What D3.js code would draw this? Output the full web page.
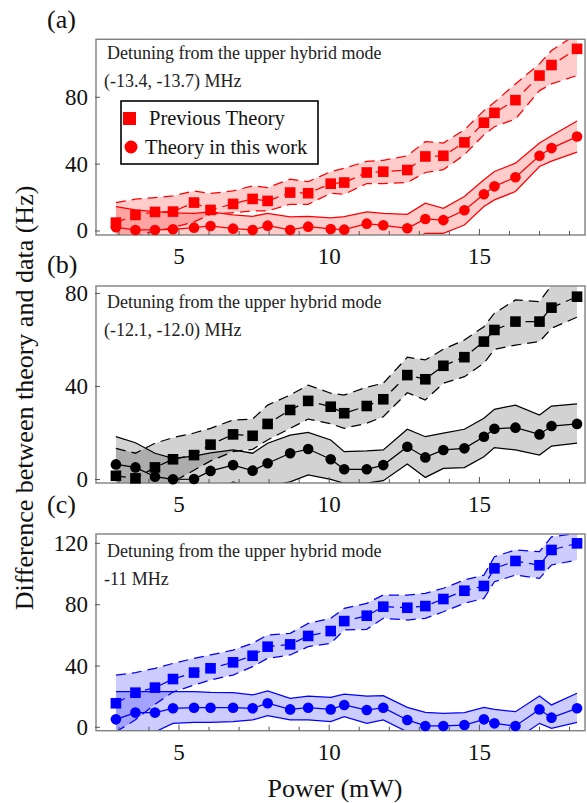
<!DOCTYPE html>
<html>
<head>
<meta charset="utf-8">
<script src="https://cdn.jsdelivr.net/npm/d3@7"></script>
<style>
  body { margin: 0; background: #fff; }
  svg { display: block; }
</style>
</head>
<body>
<div id="chart"></div>
<script>
// power axis (mW), same sampling in all three panels
const power = [2.9, 3.55, 4.2, 4.8, 5.5, 6.05, 6.8, 7.45, 7.95, 8.7, 9.3, 10.05, 10.5, 11.25, 11.8, 12.6, 13.2, 13.8, 14.5, 15.15, 15.5, 16.2, 17.0, 17.4, 18.25];

// (a) detuning (-13.4, -13.7) MHz
const prevA   = [5, 9.6, 11.4, 11.6, 17, 12.6, 16.2, 19.2, 18, 23, 22.6, 28.3, 29, 35, 35.5, 36.5, 44.6, 45, 53, 64.8, 70.7, 78.3, 93, 99.3, 109];
const prevAHi = [17, 19, 20, 21, 24, 22.5, 24, 27, 26, 31, 29.5, 35.5, 37.5, 41.7, 42.3, 45, 53.5, 52.6, 60.5, 72, 77, 88, 100, 108, 118];
const prevALo = [-6, -3, 0, 2, 5.5, 10, 11, 12, 12, 16, 16, 22.5, 22, 28.4, 28.4, 29, 35, 36.7, 45.6, 57.5, 62.4, 67, 84, 88, 93];
const thisA   = [2.2, 0.6, 0.6, 1, 2, 3, 1.4, 0.6, 3.2, 0.6, 2.6, 1.2, 0.8, 4.4, 3.4, 1.6, 7.2, 6.5, 12.4, 22, 26.7, 32.2, 45, 49.6, 56.5];
const thisAHi = [14.6, 12.6, 11.6, 10.8, 10.6, 11.5, 9.6, 8.8, 10.6, 8.4, 8.8, 7.8, 8.6, 11.4, 10.6, 10, 16.6, 13.6, 20.6, 30.6, 35.6, 40.6, 52.6, 57, 65.8];
const thisALo = [-8, -9, -9, -9, -8, -7, -8, -9, -6, -9, -7, -8, -9, -5, -6, -8, -1.4, -1.4, 3.6, 14.6, 18.6, 23.6, 38.6, 41.8, 47.2];

// (b) detuning (-12.1, -12.0) MHz
const prevB   = [1.6, 0.5, 5.2, 8.7, 10.5, 15, 19.4, 18.8, 23.9, 29.9, 33.8, 31.3, 28.5, 31.6, 34.5, 44.9, 43.1, 48.9, 52.6, 59.3, 64.3, 67.9, 67.9, 73.9, 78.6];
const prevBHi = [13.4, 11.3, 15.6, 18, 20, 22, 25.6, 26, 32, 36.3, 40.6, 37.1, 36.3, 39.7, 41.4, 52.6, 51.4, 56, 60, 65.7, 71.5, 77.2, 76.5, 83.5, 88];
const prevBLo = [-10, -8, -5, -1, 4, 8, 12, 13, 17, 22, 26, 24, 22, 24.2, 27, 37.3, 34.2, 41.4, 44.2, 50, 56, 57.8, 59.3, 65, 69.8];
const thisB   = [6.5, 5.2, 1.2, 0.1, 0.2, 3.7, 6.2, 3.8, 7, 11.3, 13.1, 8.7, 4.4, 4.4, 6.2, 14.1, 9.5, 12.7, 13.4, 18.4, 21.8, 22.3, 19.4, 23, 23.9];
const thisBHi = [18.4, 15.8, 11.3, 9.1, 10.1, 11.5, 12.7, 11.3, 15.6, 19.1, 20.3, 17, 12, 12.3, 12.7, 21.6, 18.4, 19.9, 21.6, 26.3, 30.2, 32, 27.7, 31.6, 32.5];
const thisBLo = [-5, -6, -9, -11, -11, -7, -1, -4, -3, -1, 2, 0.1, -1.6, -1.6, -0.5, 6.7, 0.9, 4.8, 5.1, 9.8, 13.7, 12.7, 10.5, 14.4, 15.6];

// (c) detuning -11 MHz
const prevC   = [15.7, 22.6, 25.9, 31.5, 35.7, 38.5, 42.4, 46.7, 52.6, 54.1, 59.6, 62.8, 69.3, 72.8, 78.7, 78, 79.1, 83.7, 89.1, 92.2, 103.7, 108.5, 105.7, 115.7, 120];
const prevCHi = [34.1, 35.7, 38.5, 41.7, 45, 47.2, 50.4, 54.8, 60.2, 61.3, 67.8, 71.1, 77.6, 80.9, 86.3, 86.3, 87.4, 90.7, 96.1, 99.3, 111.3, 115.7, 114.6, 124.3, 126.5];
const prevCLo = [-3, 5, 15, 23, 27.6, 30.9, 34.1, 39.6, 45, 47.2, 52.6, 54.8, 63.5, 63.9, 71.1, 70, 71.1, 75.4, 80.9, 84.1, 95, 99.3, 97.2, 105.9, 109.1];
const thisC   = [5.2, 9.6, 9.6, 12.4, 12.8, 12.8, 12.8, 12.4, 15.7, 11.7, 12.8, 11.7, 14.6, 11.3, 12.8, 4.8, 0.9, 0.9, 1.5, 5.2, 2.6, 0.9, 11.7, 6.3, 12.4];
const thisCHi = [23.3, 23.3, 23.3, 23.3, 23.3, 22.8, 22.6, 21.1, 23.7, 18.9, 20.4, 19.6, 21.7, 20.4, 20.7, 13, 9.8, 9.1, 9.6, 13, 11.7, 10.2, 20.4, 14.6, 22.2];
const thisCLo = [-12, -7, -3, 2.6, 3.3, 3.3, 3.7, 4.8, 7.6, 4.8, 4.8, 3.7, 7, 2.6, 4.8, -3, -7, -8, -8, -3, -5, -8, 2.6, -0.7, 3.3];

const xTicks = [5, 10, 15];
const xMinorTicks = d3.range(3, 19);
const panelTags = ['(a)', '(b)', '(c)'];
const detuningText = ['(-13.4, -13.7) MHz', '(-12.1, -12.0) MHz', '-11 MHz'];
const legendLabels = ['Previous Theory', 'Theory in this work'];

const W = 587, H = 803;
const FONT = '"Liberation Serif", "Times New Roman", serif';
const left = 96, right = 585;

const svg = d3.select('#chart').append('svg')
    .attr('width', W)
    .attr('height', H)
    .style('font-family', FONT)
    .style('fill', '#111');

const x = d3.scaleLinear().domain([2.237, 18.515]).range([left, right]);

// 面板配置
const panels = [
    { top: 39.3, bottom: 235, yDomain: [-2.4, 114.7], yTicks: [0, 40, 80], color: '#ff0000', opacity: 0.2,
      prev: prevA, prevHi: prevAHi, prevLo: prevALo, cur: thisA, curHi: thisAHi, curLo: thisALo, tagY: 28, textY: 59 },
    { top: 286, bottom: 483, yDomain: [-1.5, 83.2], yTicks: [0, 40, 80], color: '#000000', opacity: 0.175,
      prev: prevB, prevHi: prevBHi, prevLo: prevBLo, cur: thisB, curHi: thisBHi, curLo: thisBLo, tagY: 273, textY: 308 },
    { top: 534, bottom: 730.7, yDomain: [-2.2, 126.1], yTicks: [0, 40, 80, 120], color: '#0000ff', opacity: 0.2,
      prev: prevC, prevHi: prevCHi, prevLo: prevCLo, cur: thisC, curHi: thisCHi, curLo: thisCLo, tagY: 513, textY: 557 },
];

const idx = d3.range(power.length);

panels.forEach((p, k) => {
    const y = d3.scaleLinear().domain(p.yDomain).range([p.bottom, p.top]);
    const g = svg.append('g');

    svg.append('defs').append('clipPath').attr('id', `clip-${k}`)
        .append('rect')
        .attr('x', left).attr('y', p.top)
        .attr('width', right - left).attr('height', p.bottom - p.top);

    const plot = g.append('g').attr('clip-path', `url(#clip-${k})`);

    const area = (lo, hi) => d3.area()
        .x(i => x(power[i]))
        .y0(i => y(lo[i]))
        .y1(i => y(hi[i]));
    const line = (arr) => d3.line()
        .x(i => x(power[i]))
        .y(i => y(arr[i]));

    // 误差带
    plot.append('path').attr('d', area(p.prevLo, p.prevHi)(idx))
        .attr('fill', p.color).attr('fill-opacity', p.opacity);
    plot.append('path').attr('d', area(p.curLo, p.curHi)(idx))
        .attr('fill', p.color).attr('fill-opacity', p.opacity);

    // 带边界 + 连线
    [p.prevHi, p.prevLo, p.prev].forEach(arr => {
        plot.append('path').attr('d', line(arr)(idx))
            .attr('fill', 'none').attr('stroke', p.color)
            .attr('stroke-width', 1.25).attr('stroke-dasharray', '10,6');
    });
    [p.curHi, p.curLo, p.cur].forEach(arr => {
        plot.append('path').attr('d', line(arr)(idx))
            .attr('fill', 'none').attr('stroke', p.color)
            .attr('stroke-width', 1.25);
    });

    // 边框
    g.append('rect')
        .attr('x', left).attr('y', p.top)
        .attr('width', right - left).attr('height', p.bottom - p.top)
        .attr('fill', 'none').attr('stroke', '#808080').attr('stroke-width', 1.4);

    // x 刻度 (向内)
    g.selectAll('.xminor').data(xMinorTicks).enter().append('line')
        .attr('x1', d => x(d)).attr('x2', d => x(d))
        .attr('y1', p.bottom).attr('y2', d => p.bottom - (xTicks.includes(d) ? 6 : 4))
        .attr('stroke', '#555').attr('stroke-width', 1);
    g.selectAll('.xlab').data(xTicks).enter().append('text')
        .attr('x', d => x(d)).attr('y', p.bottom + 29)
        .attr('text-anchor', 'middle')
        .style('font-size', '23px')
        .text(d => d);

    // y 刻度
    g.selectAll('.ytick').data(p.yTicks).enter().append('line')
        .attr('x1', left - 1).attr('x2', left + 4)
        .attr('y1', d => y(d)).attr('y2', d => y(d))
        .attr('stroke', '#555').attr('stroke-width', 1);
    g.selectAll('.ylab').data(p.yTicks).enter().append('text')
        .attr('x', 88).attr('y', d => y(d) + 7.5)
        .attr('text-anchor', 'end')
        .style('font-size', '23px')
        .text(d => d);

    // 标记点
    g.selectAll('.sq').data(idx).enter().append('rect')
        .attr('x', i => x(power[i]) - 5.3).attr('y', i => y(p.prev[i]) - 5.3)
        .attr('width', 10.6).attr('height', 10.6)
        .attr('fill', p.color);
    g.selectAll('.ci').data(idx).enter().append('circle')
        .attr('cx', i => x(power[i])).attr('cy', i => y(p.cur[i]))
        .attr('r', 5.3)
        .attr('fill', p.color);

    // 标注
    g.append('text').attr('x', 47).attr('y', p.tagY)
        .style('font-size', '26px').text(panelTags[k]);
    g.append('text').attr('x', 107).attr('y', p.textY)
        .style('font-size', '18px').style('fill', '#222')
        .text('Detuning from the upper hybrid mode');
    g.append('text').attr('x', 104).attr('y', p.textY + 28)
        .style('font-size', '18px').style('fill', '#222')
        .text(detuningText[k]);
});

// 图例 (只在 (a))
const legend = svg.append('g');
legend.append('rect')
    .attr('x', 121).attr('y', 101).attr('width', 197).attr('height', 63)
    .attr('fill', '#fff').attr('stroke', '#000').attr('stroke-width', 1.6);
legend.append('rect')
    .attr('x', 123).attr('y', 112).attr('width', 13).attr('height', 13)
    .attr('fill', '#ff0000');
legend.append('circle')
    .attr('cx', 131).attr('cy', 147).attr('r', 6.5)
    .attr('fill', '#ff0000');
legend.append('text').attr('x', 149).attr('y', 125)
    .style('font-size', '20.5px').text(legendLabels[0]);
legend.append('text').attr('x', 145).attr('y', 154)
    .style('font-size', '20.5px').text(legendLabels[1]);

// 坐标轴标题
svg.append('text')
    .attr('x', 335).attr('y', 797)
    .attr('text-anchor', 'middle')
    .style('font-size', '26px')
    .text('Power (mW)');
svg.append('text')
    .attr('transform', 'translate(33,398) rotate(-90)')
    .attr('text-anchor', 'middle')
    .style('font-size', '26px')
    .text('Difference between theory and data (Hz)');
</script>
</body>
</html>
